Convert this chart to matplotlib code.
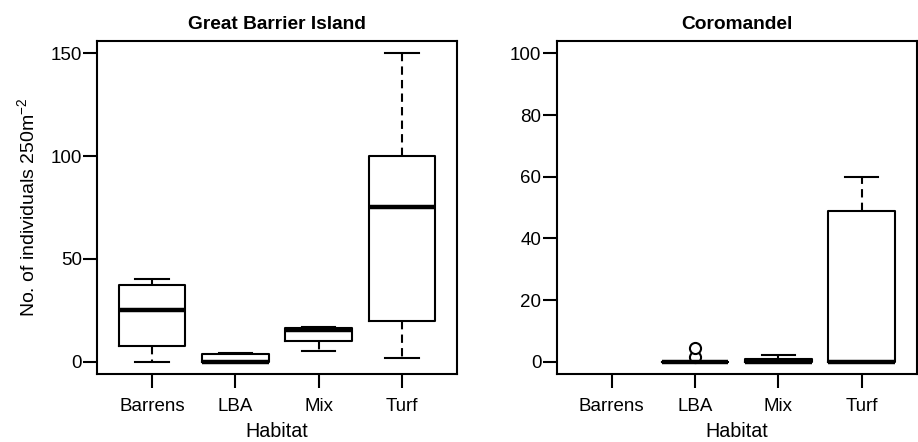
import matplotlib
matplotlib.use("Agg")
import matplotlib.pyplot as plt

plt.rcParams['font.family'] = ['Liberation Sans', 'DejaVu Sans']
plt.rcParams['mathtext.default'] = 'regular'

habitats = ["Barrens", "LBA", "Mix", "Turf"]

# Great Barrier Island box statistics
gbi_whislo = [0, 0, 5, 2]
gbi_q1 = [7.5, 0, 10.2, 20]
gbi_med = [25.2, 0, 15.3, 75.5]
gbi_q3 = [37.5, 3.5, 16.4, 100]
gbi_whishi = [40.3, 4, 17, 150]
gbi_fliers = [[], [], [], []]

# Coromandel box statistics (Barrens: no data)
cor_whislo = [None, 0, 0, 0]
cor_q1 = [None, 0, 0, 0]
cor_med = [None, 0, 0, 0]
cor_q3 = [None, 0, 0.8, 49]
cor_whishi = [None, 0, 2.2, 60]
cor_fliers = [[], [1.5, 4.5], [], []]

gbi_yticks = [0, 50, 100, 150]
cor_yticks = [0, 20, 40, 60, 80, 100]

fig = plt.figure(figsize=(9.18, 4.42), dpi=100)
ax1 = fig.add_axes([0.1057, 0.1538, 0.3921, 0.7532])
ax2 = fig.add_axes([0.6064, 0.1538, 0.3921, 0.7532])


def draw(ax, wl, q1, med, q3, wh, fl, yticks, ylim, title):
    stats = []
    pos = []
    for i in range(len(habitats)):
        if med[i] is None:
            continue
        stats.append(dict(whislo=wl[i], q1=q1[i], med=med[i], q3=q3[i],
                          whishi=wh[i], fliers=fl[i]))
        pos.append(i + 1)
    ax.bxp(stats, positions=pos, widths=0.8, showfliers=True,
           boxprops=dict(color='black', linewidth=1.5),
           medianprops=dict(color='black', linewidth=3.2, solid_capstyle='butt'),
           whiskerprops=dict(color='black', linewidth=1.5, linestyle=(0, (4, 2.5))),
           capprops=dict(color='black', linewidth=1.5),
           flierprops=dict(marker='o', markerfacecolor='white',
                           markeredgecolor='black', markersize=8,
                           markeredgewidth=1.5),
           capwidths=0.4)
    ax.set_xlim(0.34, 4.66)
    ax.set_ylim(*ylim)
    ax.set_xticks(range(1, 5))
    ax.set_xticklabels(habitats)
    ax.set_yticks(yticks)
    ax.tick_params(axis='both', labelsize=13.5, length=10, width=1.5,
                   direction='out', colors='black')
    ax.tick_params(axis='y', pad=1)
    ax.tick_params(axis='x', pad=7)
    for s in ax.spines.values():
        s.set_linewidth(1.5)
    ax.set_xlabel("Habitat", fontsize=14.2, labelpad=5)
    ax.set_title(title, fontsize=13.8, fontweight='bold', pad=9)


draw(ax1, gbi_whislo, gbi_q1, gbi_med, gbi_q3, gbi_whishi, gbi_fliers,
     gbi_yticks, (-6, 156), "Great Barrier Island")
draw(ax2, cor_whislo, cor_q1, cor_med, cor_q3, cor_whishi, cor_fliers,
     cor_yticks, (-4, 104), "Coromandel")

ax1.set_ylabel(r"No. of individuals 250m$^{-2}$", fontsize=14, labelpad=9)

fig.savefig("out.png", dpi=100)
